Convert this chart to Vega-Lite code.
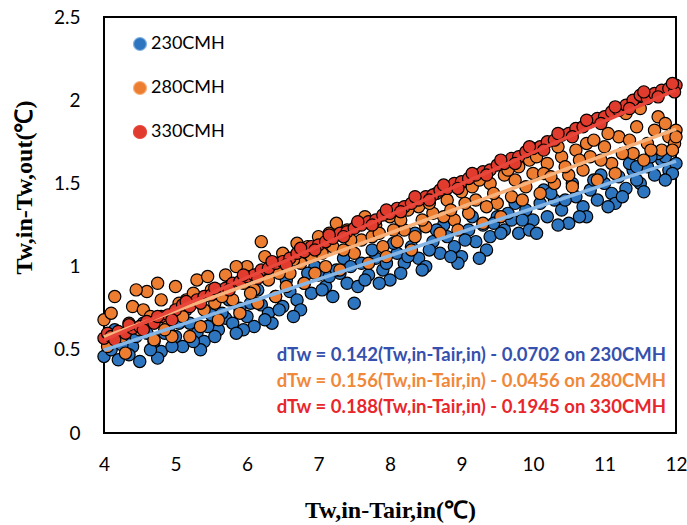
{
  "$schema": "https://vega.github.io/schema/vega-lite/v6.json",
  "autosize": "none",
  "width": 572,
  "height": 416,
  "padding": {"left": 104, "top": 17, "right": 11, "bottom": 92},
  "background": "white",
  "config": {
    "view": {"stroke": "black", "strokeWidth": 2},
    "axis": {
      "grid": false, "domain": false, "ticks": false, "tickSize": 0,
      "labelFont": "Lato", "labelFontSize": 19, "labelColor": "black",
      "titleFont": "Liberation Serif", "titleFontWeight": "bold", "titleFontSize": 24, "titleColor": "black"
    }
  },
  "datasets": {
    "xt": [{"x":4.5},{"x":5},{"x":5.5},{"x":6},{"x":6.5},{"x":7},{"x":7.5},{"x":8},{"x":8.5},{"x":9},{"x":9.5},{"x":10},{"x":10.5},{"x":11},{"x":11.5}],
    "yt": [{"y":0.25},{"y":0.5},{"y":0.75},{"y":1},{"y":1.25},{"y":1.5},{"y":1.75},{"y":2},{"y":2.25}],
    "pts": [
      {"g":"230CMH","x":4.0,"y":0.46},{"g":"230CMH","x":4.05,"y":0.55},{"g":"230CMH","x":4.1,"y":0.50},{"g":"230CMH","x":4.2,"y":0.44},{"g":"230CMH","x":4.3,"y":0.58},{"g":"230CMH","x":4.4,"y":0.52},{"g":"230CMH","x":4.5,"y":0.43},{"g":"230CMH","x":4.6,"y":0.60},{"g":"230CMH","x":4.7,"y":0.55},{"g":"230CMH","x":4.8,"y":0.49},{"g":"230CMH","x":4.9,"y":0.63},{"g":"230CMH","x":5.0,"y":0.58},{"g":"230CMH","x":5.1,"y":0.52},{"g":"230CMH","x":5.2,"y":0.66},{"g":"230CMH","x":5.3,"y":0.60},{"g":"230CMH","x":5.4,"y":0.55},{"g":"230CMH","x":5.5,"y":0.71},{"g":"230CMH","x":5.6,"y":0.62},{"g":"230CMH","x":5.7,"y":0.69},{"g":"230CMH","x":5.8,"y":0.66},{"g":"230CMH","x":5.9,"y":0.75},{"g":"230CMH","x":6.0,"y":0.70},{"g":"230CMH","x":6.1,"y":0.64},{"g":"230CMH","x":6.2,"y":0.77},{"g":"230CMH","x":6.3,"y":0.72},{"g":"230CMH","x":6.4,"y":0.82},{"g":"230CMH","x":6.5,"y":0.76},{"g":"230CMH","x":6.6,"y":0.85},{"g":"230CMH","x":6.7,"y":0.80},{"g":"230CMH","x":6.8,"y":0.90},{"g":"230CMH","x":6.9,"y":0.84},{"g":"230CMH","x":7.0,"y":0.95},{"g":"230CMH","x":7.1,"y":0.88},{"g":"230CMH","x":7.2,"y":0.82},{"g":"230CMH","x":7.3,"y":0.96},{"g":"230CMH","x":7.4,"y":0.90},{"g":"230CMH","x":7.5,"y":0.78},{"g":"230CMH","x":7.6,"y":1.02},{"g":"230CMH","x":7.7,"y":0.95},{"g":"230CMH","x":7.8,"y":1.05},{"g":"230CMH","x":7.9,"y":0.98},{"g":"230CMH","x":8.0,"y":0.92},{"g":"230CMH","x":8.1,"y":1.08},{"g":"230CMH","x":8.2,"y":1.02},{"g":"230CMH","x":8.3,"y":1.12},{"g":"230CMH","x":8.4,"y":1.05},{"g":"230CMH","x":8.5,"y":1.00},{"g":"230CMH","x":8.6,"y":1.15},{"g":"230CMH","x":8.7,"y":1.08},{"g":"230CMH","x":8.8,"y":1.18},{"g":"230CMH","x":8.9,"y":1.12},{"g":"230CMH","x":9.0,"y":1.06},{"g":"230CMH","x":9.1,"y":1.22},{"g":"230CMH","x":9.2,"y":1.15},{"g":"230CMH","x":9.3,"y":1.25},{"g":"230CMH","x":9.4,"y":1.18},{"g":"230CMH","x":9.5,"y":1.30},{"g":"230CMH","x":9.6,"y":1.22},{"g":"230CMH","x":9.7,"y":1.28},{"g":"230CMH","x":9.8,"y":1.20},{"g":"230CMH","x":9.9,"y":1.34},{"g":"230CMH","x":10.0,"y":1.28},{"g":"230CMH","x":10.1,"y":1.38},{"g":"230CMH","x":10.2,"y":1.30},{"g":"230CMH","x":10.3,"y":1.40},{"g":"230CMH","x":10.4,"y":1.34},{"g":"230CMH","x":10.5,"y":1.26},{"g":"230CMH","x":10.6,"y":1.42},{"g":"230CMH","x":10.7,"y":1.36},{"g":"230CMH","x":10.8,"y":1.46},{"g":"230CMH","x":10.9,"y":1.40},{"g":"230CMH","x":11.0,"y":1.50},{"g":"230CMH","x":11.1,"y":1.44},{"g":"230CMH","x":11.2,"y":1.54},{"g":"230CMH","x":11.3,"y":1.47},{"g":"230CMH","x":11.4,"y":1.58},{"g":"230CMH","x":11.5,"y":1.50},{"g":"230CMH","x":11.6,"y":1.60},{"g":"230CMH","x":11.7,"y":1.55},{"g":"230CMH","x":11.8,"y":1.64},{"g":"230CMH","x":11.9,"y":1.58},{"g":"230CMH","x":12.0,"y":1.62},{"g":"230CMH","x":11.95,"y":1.70},{"g":"230CMH","x":11.85,"y":1.66},
      {"g":"230CMH","x":4.15,"y":0.62},{"g":"230CMH","x":4.35,"y":0.47},{"g":"230CMH","x":4.55,"y":0.66},{"g":"230CMH","x":4.75,"y":0.45},{"g":"230CMH","x":4.95,"y":0.52},{"g":"230CMH","x":5.15,"y":0.74},{"g":"230CMH","x":5.35,"y":0.50},{"g":"230CMH","x":5.55,"y":0.58},{"g":"230CMH","x":5.75,"y":0.80},{"g":"230CMH","x":5.95,"y":0.62},{"g":"230CMH","x":6.15,"y":0.86},{"g":"230CMH","x":6.35,"y":0.66},{"g":"230CMH","x":6.55,"y":0.92},{"g":"230CMH","x":6.75,"y":0.74},{"g":"230CMH","x":6.95,"y":1.00},{"g":"230CMH","x":7.15,"y":0.94},{"g":"230CMH","x":7.35,"y":1.05},{"g":"230CMH","x":7.55,"y":0.88},{"g":"230CMH","x":7.75,"y":1.10},{"g":"230CMH","x":7.95,"y":1.02},{"g":"230CMH","x":8.15,"y":0.96},{"g":"230CMH","x":8.35,"y":1.20},{"g":"230CMH","x":8.55,"y":1.10},{"g":"230CMH","x":8.75,"y":1.25},{"g":"230CMH","x":8.95,"y":1.02},{"g":"230CMH","x":9.15,"y":1.30},{"g":"230CMH","x":9.35,"y":1.10},{"g":"230CMH","x":9.55,"y":1.20},{"g":"230CMH","x":9.75,"y":1.38},{"g":"230CMH","x":9.95,"y":1.22},{"g":"230CMH","x":10.15,"y":1.46},{"g":"230CMH","x":10.35,"y":1.25},{"g":"230CMH","x":10.55,"y":1.50},{"g":"230CMH","x":10.75,"y":1.30},{"g":"230CMH","x":10.95,"y":1.55},{"g":"230CMH","x":11.15,"y":1.38},{"g":"230CMH","x":11.35,"y":1.62},{"g":"230CMH","x":11.55,"y":1.45},{"g":"230CMH","x":11.75,"y":1.68},{"g":"230CMH","x":11.95,"y":1.56},
      {"g":"230CMH","x":4.25,"y":0.53},{"g":"230CMH","x":4.45,"y":0.58},{"g":"230CMH","x":4.65,"y":0.50},{"g":"230CMH","x":4.85,"y":0.60},{"g":"230CMH","x":5.05,"y":0.66},{"g":"230CMH","x":5.25,"y":0.55},{"g":"230CMH","x":5.45,"y":0.64},{"g":"230CMH","x":5.65,"y":0.72},{"g":"230CMH","x":5.85,"y":0.60},{"g":"230CMH","x":6.05,"y":0.78},{"g":"230CMH","x":6.25,"y":0.68},{"g":"230CMH","x":6.45,"y":0.74},{"g":"230CMH","x":6.65,"y":0.70},{"g":"230CMH","x":6.85,"y":0.96},{"g":"230CMH","x":7.05,"y":0.86},{"g":"230CMH","x":7.25,"y":0.98},{"g":"230CMH","x":7.45,"y":1.00},{"g":"230CMH","x":7.65,"y":0.92},{"g":"230CMH","x":7.85,"y":0.90},{"g":"230CMH","x":8.05,"y":1.14},{"g":"230CMH","x":8.25,"y":1.06},{"g":"230CMH","x":8.45,"y":0.98},{"g":"230CMH","x":8.65,"y":1.22},{"g":"230CMH","x":8.85,"y":1.06},{"g":"230CMH","x":9.05,"y":1.16},{"g":"230CMH","x":9.25,"y":1.05},{"g":"230CMH","x":9.45,"y":1.26},{"g":"230CMH","x":9.65,"y":1.32},{"g":"230CMH","x":9.85,"y":1.28},{"g":"230CMH","x":10.05,"y":1.20},{"g":"230CMH","x":10.25,"y":1.44},{"g":"230CMH","x":10.45,"y":1.40},{"g":"230CMH","x":10.65,"y":1.30},{"g":"230CMH","x":10.85,"y":1.52},{"g":"230CMH","x":11.05,"y":1.36},{"g":"230CMH","x":11.25,"y":1.42},{"g":"230CMH","x":11.45,"y":1.52},{"g":"230CMH","x":11.65,"y":1.66},{"g":"230CMH","x":11.85,"y":1.52},{"g":"230CMH","x":11.45,"y":1.60},
      {"g":"280CMH","x":4.0,"y":0.68},{"g":"280CMH","x":4.05,"y":0.52},{"g":"280CMH","x":4.1,"y":0.72},{"g":"280CMH","x":4.2,"y":0.60},{"g":"280CMH","x":4.3,"y":0.48},{"g":"280CMH","x":4.4,"y":0.76},{"g":"280CMH","x":4.5,"y":0.62},{"g":"280CMH","x":4.6,"y":0.85},{"g":"280CMH","x":4.7,"y":0.56},{"g":"280CMH","x":4.8,"y":0.80},{"g":"280CMH","x":4.9,"y":0.66},{"g":"280CMH","x":5.0,"y":0.88},{"g":"280CMH","x":5.1,"y":0.70},{"g":"280CMH","x":5.2,"y":0.58},{"g":"280CMH","x":5.3,"y":0.92},{"g":"280CMH","x":5.4,"y":0.74},{"g":"280CMH","x":5.5,"y":0.86},{"g":"280CMH","x":5.6,"y":0.68},{"g":"280CMH","x":5.7,"y":0.95},{"g":"280CMH","x":5.8,"y":0.80},{"g":"280CMH","x":5.9,"y":0.72},{"g":"280CMH","x":6.0,"y":1.00},{"g":"280CMH","x":6.1,"y":0.86},{"g":"280CMH","x":6.2,"y":1.15},{"g":"280CMH","x":6.3,"y":0.92},{"g":"280CMH","x":6.4,"y":0.82},{"g":"280CMH","x":6.5,"y":1.08},{"g":"280CMH","x":6.6,"y":0.96},{"g":"280CMH","x":6.7,"y":1.14},{"g":"280CMH","x":6.8,"y":0.90},{"g":"280CMH","x":6.9,"y":1.06},{"g":"280CMH","x":7.0,"y":1.18},{"g":"280CMH","x":7.1,"y":1.00},{"g":"280CMH","x":7.2,"y":1.12},{"g":"280CMH","x":7.3,"y":0.98},{"g":"280CMH","x":7.4,"y":1.22},{"g":"280CMH","x":7.5,"y":1.08},{"g":"280CMH","x":7.6,"y":1.16},{"g":"280CMH","x":7.7,"y":1.02},{"g":"280CMH","x":7.8,"y":1.25},{"g":"280CMH","x":7.9,"y":1.12},{"g":"280CMH","x":8.0,"y":1.30},{"g":"280CMH","x":8.1,"y":1.15},{"g":"280CMH","x":8.2,"y":1.22},{"g":"280CMH","x":8.3,"y":1.10},{"g":"280CMH","x":8.4,"y":1.36},{"g":"280CMH","x":8.5,"y":1.24},{"g":"280CMH","x":8.6,"y":1.32},{"g":"280CMH","x":8.7,"y":1.20},{"g":"280CMH","x":8.8,"y":1.40},{"g":"280CMH","x":8.9,"y":1.28},{"g":"280CMH","x":9.0,"y":1.45},{"g":"280CMH","x":9.1,"y":1.32},{"g":"280CMH","x":9.2,"y":1.40},{"g":"280CMH","x":9.3,"y":1.26},{"g":"280CMH","x":9.4,"y":1.50},{"g":"280CMH","x":9.5,"y":1.38},{"g":"280CMH","x":9.6,"y":1.55},{"g":"280CMH","x":9.7,"y":1.42},{"g":"280CMH","x":9.8,"y":1.60},{"g":"280CMH","x":9.9,"y":1.48},{"g":"280CMH","x":10.0,"y":1.56},{"g":"280CMH","x":10.1,"y":1.44},{"g":"280CMH","x":10.2,"y":1.62},{"g":"280CMH","x":10.3,"y":1.50},{"g":"280CMH","x":10.4,"y":1.66},{"g":"280CMH","x":10.5,"y":1.55},{"g":"280CMH","x":10.6,"y":1.70},{"g":"280CMH","x":10.7,"y":1.58},{"g":"280CMH","x":10.8,"y":1.66},{"g":"280CMH","x":10.9,"y":1.52},{"g":"280CMH","x":11.0,"y":1.72},{"g":"280CMH","x":11.1,"y":1.62},{"g":"280CMH","x":11.2,"y":1.78},{"g":"280CMH","x":11.3,"y":1.92},{"g":"280CMH","x":11.4,"y":1.68},{"g":"280CMH","x":11.5,"y":1.95},{"g":"280CMH","x":11.6,"y":1.74},{"g":"280CMH","x":11.7,"y":1.82},{"g":"280CMH","x":11.8,"y":1.70},{"g":"280CMH","x":11.9,"y":1.78},{"g":"280CMH","x":12.0,"y":1.82},{"g":"280CMH","x":11.98,"y":1.74},
      {"g":"280CMH","x":4.15,"y":0.82},{"g":"280CMH","x":4.35,"y":0.66},{"g":"280CMH","x":4.55,"y":0.74},{"g":"280CMH","x":4.75,"y":0.90},{"g":"280CMH","x":4.95,"y":0.58},{"g":"280CMH","x":5.15,"y":0.80},{"g":"280CMH","x":5.35,"y":0.64},{"g":"280CMH","x":5.55,"y":0.78},{"g":"280CMH","x":5.75,"y":0.88},{"g":"280CMH","x":5.95,"y":0.90},{"g":"280CMH","x":6.15,"y":0.78},{"g":"280CMH","x":6.35,"y":1.02},{"g":"280CMH","x":6.55,"y":0.88},{"g":"280CMH","x":6.75,"y":1.02},{"g":"280CMH","x":6.95,"y":0.96},{"g":"280CMH","x":7.15,"y":1.20},{"g":"280CMH","x":7.35,"y":1.10},{"g":"280CMH","x":7.55,"y":1.26},{"g":"280CMH","x":7.75,"y":1.18},{"g":"280CMH","x":7.95,"y":1.06},{"g":"280CMH","x":8.15,"y":1.28},{"g":"280CMH","x":8.35,"y":1.18},{"g":"280CMH","x":8.55,"y":1.38},{"g":"280CMH","x":8.75,"y":1.30},{"g":"280CMH","x":8.95,"y":1.22},{"g":"280CMH","x":9.15,"y":1.48},{"g":"280CMH","x":9.35,"y":1.36},{"g":"280CMH","x":9.55,"y":1.30},{"g":"280CMH","x":9.75,"y":1.52},{"g":"280CMH","x":9.95,"y":1.64},{"g":"280CMH","x":10.15,"y":1.56},{"g":"280CMH","x":10.35,"y":1.72},{"g":"280CMH","x":10.55,"y":1.48},{"g":"280CMH","x":10.75,"y":1.74},{"g":"280CMH","x":10.95,"y":1.64},{"g":"280CMH","x":11.15,"y":1.56},{"g":"280CMH","x":11.35,"y":1.76},{"g":"280CMH","x":11.55,"y":1.64},{"g":"280CMH","x":11.75,"y":1.90},{"g":"280CMH","x":11.95,"y":1.70},
      {"g":"280CMH","x":4.25,"y":0.58},{"g":"280CMH","x":4.45,"y":0.86},{"g":"280CMH","x":4.65,"y":0.70},{"g":"280CMH","x":4.85,"y":0.62},{"g":"280CMH","x":5.05,"y":0.78},{"g":"280CMH","x":5.25,"y":0.84},{"g":"280CMH","x":5.45,"y":0.94},{"g":"280CMH","x":5.65,"y":0.82},{"g":"280CMH","x":5.85,"y":1.00},{"g":"280CMH","x":6.05,"y":0.84},{"g":"280CMH","x":6.25,"y":1.06},{"g":"280CMH","x":6.45,"y":0.96},{"g":"280CMH","x":6.65,"y":1.04},{"g":"280CMH","x":6.85,"y":1.12},{"g":"280CMH","x":7.05,"y":1.08},{"g":"280CMH","x":7.25,"y":1.26},{"g":"280CMH","x":7.45,"y":1.16},{"g":"280CMH","x":7.65,"y":1.30},{"g":"280CMH","x":7.85,"y":1.20},{"g":"280CMH","x":8.05,"y":1.22},{"g":"280CMH","x":8.25,"y":1.34},{"g":"280CMH","x":8.45,"y":1.28},{"g":"280CMH","x":8.65,"y":1.44},{"g":"280CMH","x":8.85,"y":1.34},{"g":"280CMH","x":9.05,"y":1.38},{"g":"280CMH","x":9.25,"y":1.52},{"g":"280CMH","x":9.45,"y":1.44},{"g":"280CMH","x":9.65,"y":1.58},{"g":"280CMH","x":9.85,"y":1.40},{"g":"280CMH","x":10.05,"y":1.66},{"g":"280CMH","x":10.25,"y":1.54},{"g":"280CMH","x":10.45,"y":1.60},{"g":"280CMH","x":10.65,"y":1.64},{"g":"280CMH","x":10.85,"y":1.76},{"g":"280CMH","x":11.05,"y":1.80},{"g":"280CMH","x":11.25,"y":1.68},{"g":"280CMH","x":11.45,"y":1.84},{"g":"280CMH","x":11.65,"y":1.70},{"g":"280CMH","x":11.85,"y":1.86},{"g":"280CMH","x":12.0,"y":1.78},
      {"g":"330CMH","x":4.0,"y":0.57},{"g":"330CMH","x":4.05,"y":0.60},{"g":"330CMH","x":4.1,"y":0.58},{"g":"330CMH","x":4.2,"y":0.61},{"g":"330CMH","x":4.3,"y":0.60},{"g":"330CMH","x":4.4,"y":0.63},{"g":"330CMH","x":4.5,"y":0.64},{"g":"330CMH","x":4.6,"y":0.67},{"g":"330CMH","x":4.7,"y":0.66},{"g":"330CMH","x":4.8,"y":0.70},{"g":"330CMH","x":4.9,"y":0.71},{"g":"330CMH","x":5.0,"y":0.74},{"g":"330CMH","x":5.1,"y":0.77},{"g":"330CMH","x":5.2,"y":0.76},{"g":"330CMH","x":5.3,"y":0.80},{"g":"330CMH","x":5.4,"y":0.82},{"g":"330CMH","x":5.5,"y":0.83},{"g":"330CMH","x":5.6,"y":0.86},{"g":"330CMH","x":5.7,"y":0.87},{"g":"330CMH","x":5.8,"y":0.90},{"g":"330CMH","x":5.9,"y":0.91},{"g":"330CMH","x":6.0,"y":0.94},{"g":"330CMH","x":6.1,"y":0.95},{"g":"330CMH","x":6.2,"y":0.98},{"g":"330CMH","x":6.3,"y":0.99},{"g":"330CMH","x":6.4,"y":1.02},{"g":"330CMH","x":6.5,"y":1.03},{"g":"330CMH","x":6.6,"y":1.05},{"g":"330CMH","x":6.7,"y":1.08},{"g":"330CMH","x":6.8,"y":1.09},{"g":"330CMH","x":6.9,"y":1.12},{"g":"330CMH","x":7.0,"y":1.13},{"g":"330CMH","x":7.1,"y":1.15},{"g":"330CMH","x":7.2,"y":1.17},{"g":"330CMH","x":7.3,"y":1.20},{"g":"330CMH","x":7.4,"y":1.21},{"g":"330CMH","x":7.5,"y":1.23},{"g":"330CMH","x":7.6,"y":1.25},{"g":"330CMH","x":7.7,"y":1.27},{"g":"330CMH","x":7.8,"y":1.28},{"g":"330CMH","x":7.9,"y":1.31},{"g":"330CMH","x":8.0,"y":1.32},{"g":"330CMH","x":8.1,"y":1.35},{"g":"330CMH","x":8.2,"y":1.36},{"g":"330CMH","x":8.3,"y":1.38},{"g":"330CMH","x":8.4,"y":1.40},{"g":"330CMH","x":8.5,"y":1.42},{"g":"330CMH","x":8.6,"y":1.43},{"g":"330CMH","x":8.7,"y":1.46},{"g":"330CMH","x":8.8,"y":1.47},{"g":"330CMH","x":8.9,"y":1.50},{"g":"330CMH","x":9.0,"y":1.51},{"g":"330CMH","x":9.1,"y":1.53},{"g":"330CMH","x":9.2,"y":1.55},{"g":"330CMH","x":9.3,"y":1.57},{"g":"330CMH","x":9.4,"y":1.58},{"g":"330CMH","x":9.5,"y":1.61},{"g":"330CMH","x":9.6,"y":1.62},{"g":"330CMH","x":9.7,"y":1.65},{"g":"330CMH","x":9.8,"y":1.66},{"g":"330CMH","x":9.9,"y":1.69},{"g":"330CMH","x":10.0,"y":1.71},{"g":"330CMH","x":10.1,"y":1.72},{"g":"330CMH","x":10.2,"y":1.75},{"g":"330CMH","x":10.3,"y":1.76},{"g":"330CMH","x":10.4,"y":1.79},{"g":"330CMH","x":10.5,"y":1.80},{"g":"330CMH","x":10.6,"y":1.83},{"g":"330CMH","x":10.7,"y":1.84},{"g":"330CMH","x":10.8,"y":1.87},{"g":"330CMH","x":10.9,"y":1.89},{"g":"330CMH","x":11.0,"y":1.90},{"g":"330CMH","x":11.1,"y":1.93},{"g":"330CMH","x":11.2,"y":1.94},{"g":"330CMH","x":11.3,"y":1.97},{"g":"330CMH","x":11.4,"y":2.00},{"g":"330CMH","x":11.5,"y":2.03},{"g":"330CMH","x":11.6,"y":2.01},{"g":"330CMH","x":11.7,"y":2.04},{"g":"330CMH","x":11.8,"y":2.06},{"g":"330CMH","x":11.9,"y":2.07},{"g":"330CMH","x":12.0,"y":2.09},{"g":"330CMH","x":11.98,"y":2.05},
      {"g":"330CMH","x":4.15,"y":0.56},{"g":"330CMH","x":4.35,"y":0.65},{"g":"330CMH","x":4.55,"y":0.62},{"g":"330CMH","x":4.75,"y":0.70},{"g":"330CMH","x":4.95,"y":0.68},{"g":"330CMH","x":5.15,"y":0.79},{"g":"330CMH","x":5.35,"y":0.78},{"g":"330CMH","x":5.55,"y":0.87},{"g":"330CMH","x":5.75,"y":0.86},{"g":"330CMH","x":5.95,"y":0.95},{"g":"330CMH","x":6.15,"y":0.93},{"g":"330CMH","x":6.35,"y":1.03},{"g":"330CMH","x":6.55,"y":1.01},{"g":"330CMH","x":6.75,"y":1.11},{"g":"330CMH","x":6.95,"y":1.10},{"g":"330CMH","x":7.15,"y":1.19},{"g":"330CMH","x":7.35,"y":1.18},{"g":"330CMH","x":7.55,"y":1.27},{"g":"330CMH","x":7.75,"y":1.25},{"g":"330CMH","x":7.95,"y":1.34},{"g":"330CMH","x":8.15,"y":1.33},{"g":"330CMH","x":8.35,"y":1.42},{"g":"330CMH","x":8.55,"y":1.40},{"g":"330CMH","x":8.75,"y":1.49},{"g":"330CMH","x":8.95,"y":1.47},{"g":"330CMH","x":9.15,"y":1.56},{"g":"330CMH","x":9.35,"y":1.55},{"g":"330CMH","x":9.55,"y":1.64},{"g":"330CMH","x":9.75,"y":1.62},{"g":"330CMH","x":9.95,"y":1.72},{"g":"330CMH","x":10.15,"y":1.70},{"g":"330CMH","x":10.35,"y":1.80},{"g":"330CMH","x":10.55,"y":1.78},{"g":"330CMH","x":10.75,"y":1.88},{"g":"330CMH","x":10.95,"y":1.86},{"g":"330CMH","x":11.15,"y":1.96},{"g":"330CMH","x":11.35,"y":1.95},{"g":"330CMH","x":11.55,"y":2.05},{"g":"330CMH","x":11.75,"y":2.02},{"g":"330CMH","x":11.95,"y":2.10}
    ],
    "fits": [
      {"g":"230CMH","x":4,"y":0.498},{"g":"230CMH","x":12,"y":1.634},
      {"g":"280CMH","x":4,"y":0.578},{"g":"280CMH","x":12,"y":1.826},
      {"g":"330CMH","x":4,"y":0.558},{"g":"330CMH","x":12,"y":2.062}
    ],
    "eqs": [
      {"g":"230CMH","label":"dTw = 0.142(Tw,in-Tair,in) - 0.0702 on 230CMH","x":11.86,"y":0.469},
      {"g":"280CMH","label":"dTw = 0.156(Tw,in-Tair,in) - 0.0456 on 280CMH","x":11.86,"y":0.3125},
      {"g":"330CMH","label":"dTw = 0.188(Tw,in-Tair,in) - 0.1945 on 330CMH","x":11.86,"y":0.156}
    ]
  },
  "encoding": {
    "x": {"field": "x", "type": "quantitative",
      "scale": {"domain": [4, 12], "nice": false, "zero": false},
      "axis": {"title": "Tw,in-Tair,in(℃)", "values": [4,5,6,7,8,9,10,11,12], "format": "~g",
        "labelPadding": 22, "titleX": 286, "titleY": 77, "titleBaseline": "middle", "titleAnchor": "middle", "labelFlush": false}},
    "y": {"field": "y", "type": "quantitative",
      "scale": {"domain": [0, 2.5], "nice": false},
      "axis": {"title": "Tw,in-Tw,out(℃)", "values": [0,0.5,1,1.5,2,2.5], "format": "~g",
        "labelPadding": 24, "titleX": -80, "titleY": 170, "titleBaseline": "middle", "titleAngle": -90, "labelFlush": false}}
  },
  "layer": [
    {
      "data": {"name": "pts"},
      "mark": {"type": "point", "filled": true, "shape": "circle", "size": 150, "stroke": "#000000", "strokeWidth": 1.2, "opacity": 1, "strokeOpacity": 1},
      "encoding": {
        "fill": {"field": "g", "type": "nominal",
          "scale": {"domain": ["230CMH","280CMH","330CMH"], "range": ["#2e75c0","#ed7d31","#e03b2c"]},
          "legend": {"title": null, "orient": "none", "legendX": 27, "legendY": 18, "symbolSize": 170,
            "symbolStrokeColor": "#000000", "symbolStrokeWidth": 1.2, "symbolType": "circle",
            "labelFont": "Lato", "labelFontSize": 18, "labelColor": "black", "rowPadding": 26, "labelOffset": 2}}
      }
    },
    {
      "data": {"name": "fits"},
      "mark": {"type": "line", "strokeWidth": 3.5},
      "encoding": {
        "stroke": {"field": "g", "type": "nominal",
          "scale": {"domain": ["230CMH","280CMH","330CMH"], "range": ["#86b6e6","#f7b27c","#e8463a"]},
          "legend": null},
        "detail": {"field": "g"}
      }
    },
    {
      "data": {"name": "eqs"},
      "mark": {"type": "text", "align": "right", "baseline": "middle", "font": "Lato", "fontWeight": "bold", "fontSize": 18.5},
      "encoding": {
        "text": {"field": "label"},
        "color": {"field": "g", "type": "nominal",
          "scale": {"domain": ["230CMH","280CMH","330CMH"], "range": ["#3550ad","#f0883a","#e8262b"]},
          "legend": null}
      }
    },
    {
      "data": {"name": "xt"},
      "mark": {"type": "rule", "color": "#000000", "strokeWidth": 1.6, "opacity": 1},
      "encoding": {"y": {"datum": 0}, "y2": {"datum": 0.042}}
    },
    {
      "data": {"name": "yt"},
      "mark": {"type": "rule", "color": "#000000", "strokeWidth": 1.6, "opacity": 1},
      "encoding": {"x": {"datum": 4}, "x2": {"datum": 4.098}}
    }
  ]
}
